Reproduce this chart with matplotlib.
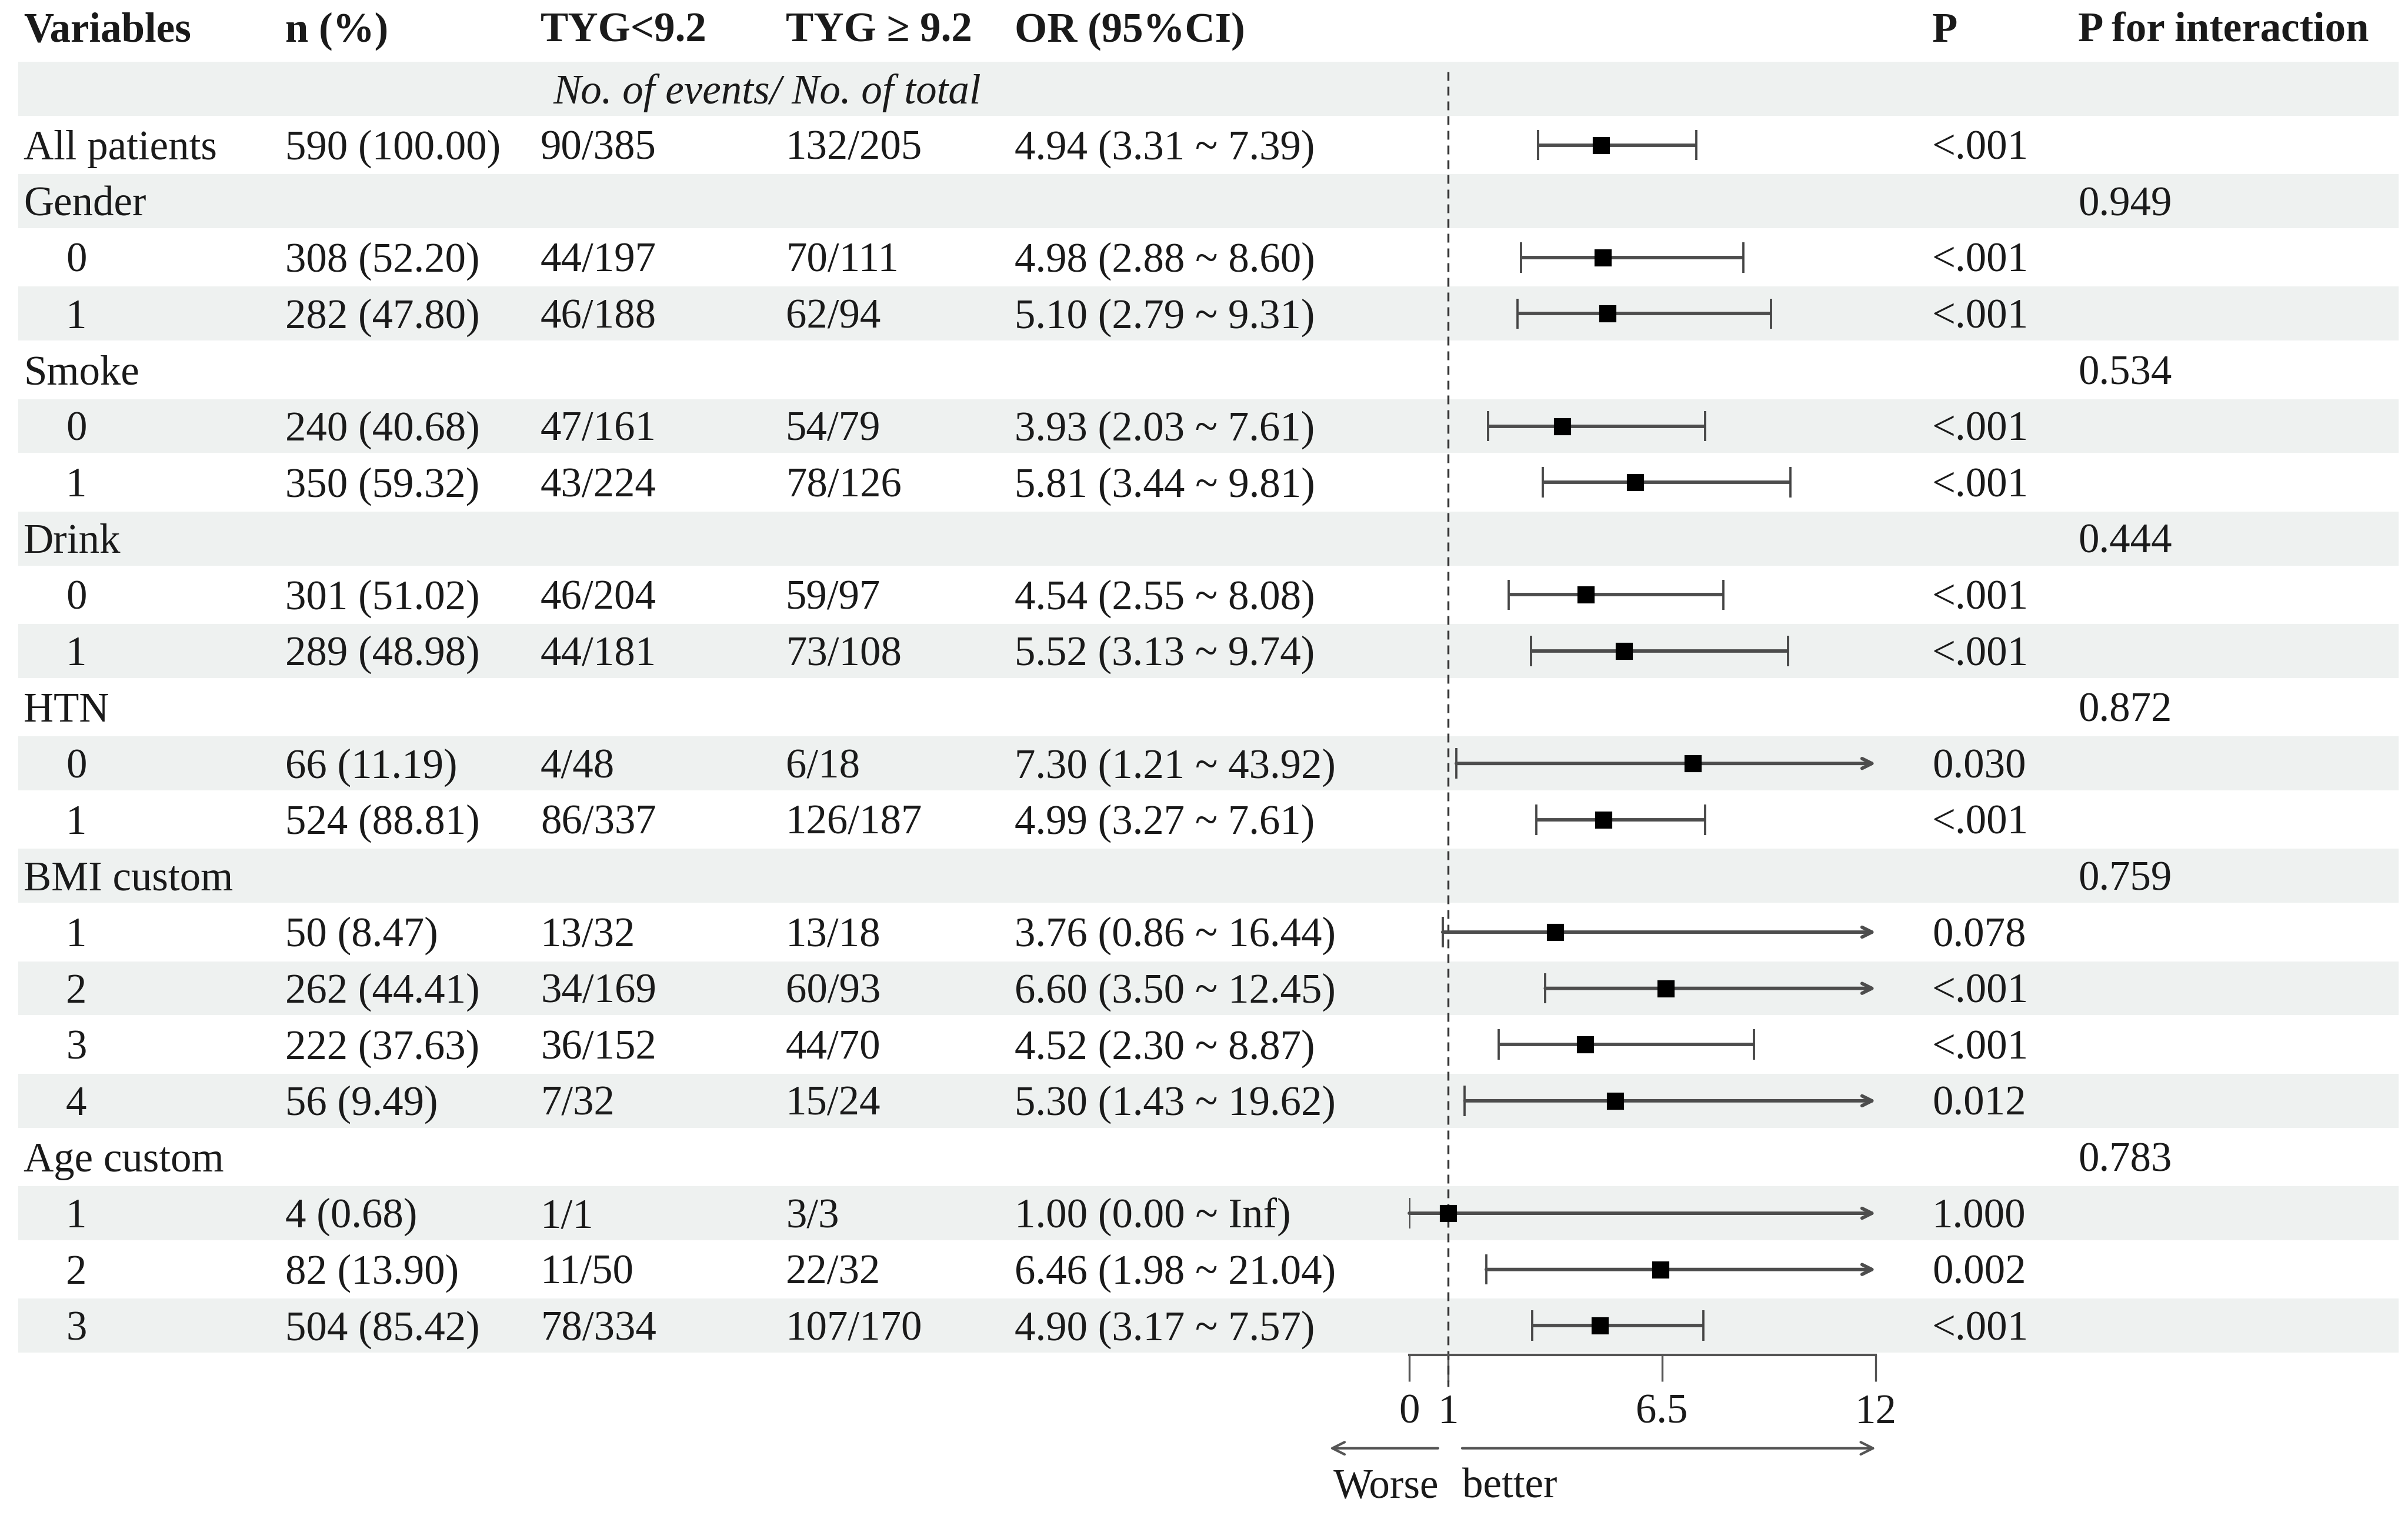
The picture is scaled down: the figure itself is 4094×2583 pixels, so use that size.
import matplotlib.pyplot as plt
import numpy as np

plt.rcParams["font.family"] = ["Liberation Serif", "DejaVu Serif"]
plt.rcParams["font.size"] = 17

# Table content, one entry per row below the sub-header
labels = ["All patients", "Gender", "0", "1", "Smoke", "0", "1", "Drink", "0", "1",
          "HTN", "0", "1", "BMI custom", "1", "2", "3", "4", "Age custom", "1", "2", "3"]
is_group = [False, True, False, False, True, False, False, True, False, False,
            True, False, False, True, False, False, False, False, True, False, False, False]
n_pct = ["590 (100.00)", "", "308 (52.20)", "282 (47.80)", "", "240 (40.68)", "350 (59.32)",
         "", "301 (51.02)", "289 (48.98)", "", "66 (11.19)", "524 (88.81)", "",
         "50 (8.47)", "262 (44.41)", "222 (37.63)", "56 (9.49)", "",
         "4 (0.68)", "82 (13.90)", "504 (85.42)"]
tyg_low = ["90/385", "", "44/197", "46/188", "", "47/161", "43/224", "", "46/204", "44/181",
           "", "4/48", "86/337", "", "13/32", "34/169", "36/152", "7/32", "", "1/1", "11/50", "78/334"]
tyg_high = ["132/205", "", "70/111", "62/94", "", "54/79", "78/126", "", "59/97", "73/108",
            "", "6/18", "126/187", "", "13/18", "60/93", "44/70", "15/24", "", "3/3", "22/32", "107/170"]
or_est = [4.94, np.nan, 4.98, 5.10, np.nan, 3.93, 5.81, np.nan, 4.54, 5.52,
          np.nan, 7.30, 4.99, np.nan, 3.76, 6.60, 4.52, 5.30, np.nan, 1.00, 6.46, 4.90]
ci_low = [3.31, np.nan, 2.88, 2.79, np.nan, 2.03, 3.44, np.nan, 2.55, 3.13,
          np.nan, 1.21, 3.27, np.nan, 0.86, 3.50, 2.30, 1.43, np.nan, 0.00, 1.98, 3.17]
ci_high = [7.39, np.nan, 8.60, 9.31, np.nan, 7.61, 9.81, np.nan, 8.08, 9.74,
           np.nan, 43.92, 7.61, np.nan, 16.44, 12.45, 8.87, 19.62, np.nan, np.inf, 21.04, 7.57]
ci_text = ["4.94 (3.31 ~ 7.39)", "", "4.98 (2.88 ~ 8.60)", "5.10 (2.79 ~ 9.31)", "",
           "3.93 (2.03 ~ 7.61)", "5.81 (3.44 ~ 9.81)", "", "4.54 (2.55 ~ 8.08)",
           "5.52 (3.13 ~ 9.74)", "", "7.30 (1.21 ~ 43.92)", "4.99 (3.27 ~ 7.61)", "",
           "3.76 (0.86 ~ 16.44)", "6.60 (3.50 ~ 12.45)", "4.52 (2.30 ~ 8.87)",
           "5.30 (1.43 ~ 19.62)", "", "1.00 (0.00 ~ Inf)", "6.46 (1.98 ~ 21.04)",
           "4.90 (3.17 ~ 7.57)"]
p_vals = ["<.001", "", "<.001", "<.001", "", "<.001", "<.001", "", "<.001", "<.001",
          "", "0.030", "<.001", "", "0.078", "<.001", "<.001", "0.012", "", "1.000", "0.002", "<.001"]
p_inter = ["", "0.949", "", "", "0.534", "", "", "0.444", "", "", "0.872", "", "",
           "0.759", "", "", "", "", "0.783", "", "", ""]

headers = ["Variables", "n (%)", "TYG<9.2", "TYG ≥ 9.2", "OR (95%CI)", "P", "P for interaction"]
ticks = [0, 1, 6.5, 12]
x_max = 12

W, H = 4094, 2583
fig = plt.figure(figsize=(W / 300, H / 300), dpi=300)

# full-figure axes for the table text (x in pixels, y in row units)
ax = fig.add_axes([0, 0, 1, 1])
ax.set_xlim(0, W)
ax.set_ylim(26.44, -0.579)
ax.axis("off")

text_color = "#1a1a1a"
band_color = "#eef1f0"
col_x = [40, 485, 919, 1336, 1725, 3285, 3533]
dy = 0.07  # small downward nudge so digits sit on the row centre

rows = np.arange(len(labels)) + 2

# alternate shading: sub-header row and every other row after it
for r in range(1, int(rows[-1]) + 1, 2):
    ax.axhspan(r - 0.48, r + 0.48, xmin=31 / W, xmax=4078 / W, color=band_color, lw=0, zorder=0)

for x, h in zip(col_x, headers):
    ax.text(x, -0.09 + dy, h, fontweight="bold", va="center", color=text_color)
ax.text(941, 1 + dy, "No. of events/ No. of total", style="italic", va="center", color=text_color)

for i, r in enumerate(rows):
    lx = col_x[0] if (is_group[i] or i == 0) else 112
    ax.text(lx, r + dy, labels[i], va="center", color=text_color)
    for x, s in zip(col_x[1:], [n_pct[i], tyg_low[i], tyg_high[i], ci_text[i], p_vals[i], p_inter[i]]):
        if s:
            ax.text(x, r + dy, s, va="center", color=text_color)

# forest axes: x in OR units, bottom spine is the OR axis
ax2 = fig.add_axes([2396 / W, 1 - 2304 / H, (3189 - 2396) / W, 2304 / H])
ax2.patch.set_visible(False)
ax2.set_xlim(0, x_max)
ax2.set_ylim(23.52, -0.579)
for s in ["top", "right", "left"]:
    ax2.spines[s].set_visible(False)
ax2.spines["bottom"].set_color("#555555")
ax2.spines["bottom"].set_linewidth(1.0)
ax2.set_yticks([])
ax2.set_xticks(ticks)
ax2.set_xticklabels(["0", "1", "6.5", "12"])
ax2.tick_params(axis="x", direction="out", length=10.8, width=0.8, color="#555555",
                pad=5, labelsize=17, labelcolor=text_color)

ax2.plot([1, 1], [0.7, 24.08], ls=(0, (4.5, 3)), lw=0.8, color="#333333", clip_on=False, zorder=2)

cap = 0.27
line_color = "#4d4d4d"
for i, r in enumerate(rows):
    if np.isnan(or_est[i]):
        continue
    lo = max(ci_low[i], 0)
    hi = ci_high[i]
    ax2.vlines(lo, r - cap, r + cap, color="#444444", lw=0.9, zorder=3)
    if hi > x_max:
        ax2.annotate("", xy=(x_max, r), xytext=(lo, r),
                     arrowprops=dict(arrowstyle="->,head_length=0.4,head_width=0.2",
                                     color=line_color, lw=1.4, shrinkA=0, shrinkB=0,
                                     mutation_scale=10),
                     annotation_clip=False, zorder=3)
    else:
        ax2.hlines(r, lo, hi, color=line_color, lw=1.4, zorder=3)
        ax2.vlines(hi, r - cap, r + cap, color="#444444", lw=0.9, zorder=3)
    ax2.plot(or_est[i], r, marker="s", ms=6, color="black", mec="black", zorder=4, clip_on=False)

# direction arrows and captions below the axis
arrow_kw = dict(arrowstyle="->,head_length=0.5,head_width=0.25", color="#555555", lw=1.0,
                shrinkA=0, shrinkB=0, mutation_scale=10)
ax2.annotate("", xy=(-2.05, 25.18), xytext=(0.74, 25.18), arrowprops=arrow_kw, annotation_clip=False)
ax2.annotate("", xy=(x_max, 25.18), xytext=(1.36, 25.18), arrowprops=arrow_kw, annotation_clip=False)
ax2.text(-1.95, 25.8 + dy, "Worse", va="center", ha="left", color=text_color, clip_on=False)
ax2.text(1.36, 25.8 + dy, "better", va="center", ha="left", color=text_color, clip_on=False)

fig.savefig("out.png", dpi=300, facecolor="white")
